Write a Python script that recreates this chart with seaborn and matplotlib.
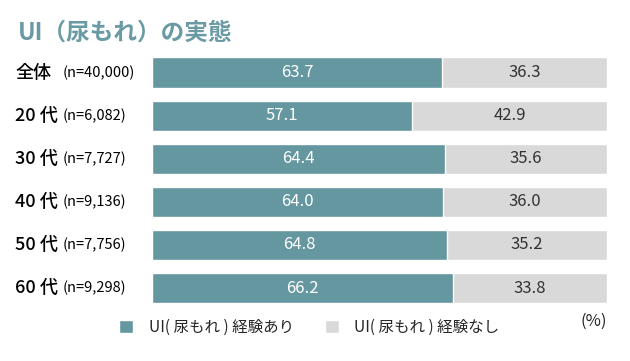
import pandas as pd
import seaborn as sns
import matplotlib.pyplot as plt

sns.set_style("white")
plt.rcParams['font.family'] = ['Noto Sans CJK JP', 'DejaVu Sans']

groups = ["全体", "20 代", "30 代", "40 代", "50 代", "60 代"]
counts = ["(n=40,000)", "(n=6,082)", "(n=7,727)", "(n=9,136)", "(n=7,756)", "(n=9,298)"]
yes_pct = [63.7, 57.1, 64.4, 64.0, 64.8, 66.2]
no_pct = [36.3, 42.9, 35.6, 36.0, 35.2, 33.8]

teal = "#64979f"
grey = "#d9d9d9"

data = pd.DataFrame({"group": groups, "yes": yes_pct, "no": no_pct})
data["total"] = data["yes"] + data["no"]

fig = plt.figure(figsize=(6.3, 3.61), dpi=100)
ax = fig.add_axes([152 / 630, 0.1424, 455 / 630, 0.7163])

sns.barplot(data=data, x="total", y="group", color=grey, width=0.7, ax=ax,
            label="UI( 尿もれ ) 経験なし", saturation=1)
sns.barplot(data=data, x="yes", y="group", color=teal, width=0.7, ax=ax,
            label="UI( 尿もれ ) 経験あり", saturation=1)
handles, labels = ax.get_legend_handles_labels()
if ax.get_legend() is not None:
    ax.get_legend().remove()

ax.set_xlim(0, 100)
ax.set_ylim(5.5, -0.5)
ax.set_xlabel("")
ax.set_ylabel("")
ax.set_xticks([])
ax.set_yticks([])
sns.despine(ax=ax, left=True, bottom=True)

for i, (y, n) in enumerate(zip(yes_pct, no_pct)):
    ax.text(y / 2, i, f"{y:.1f}", ha="center", va="center", color="white", fontsize=12)
    ax.text(y + n / 2, i, f"{n:.1f}", ha="center", va="center", color="#333333", fontsize=12)

trans = ax.get_yaxis_transform()
for i, (g, c) in enumerate(zip(groups, counts)):
    ax.text(-137 / 455, i, g, transform=trans, ha="left", va="center",
            fontsize=13, fontweight="medium", color="black")
    ax.text(-89 / 455, i, c, transform=trans, ha="left", va="center",
            fontsize=10.5, color="black")

fig.text(18 / 630, 1 - 33 / 361, "UI（尿もれ）の実態", ha="left", va="center",
         fontsize=17, fontweight="bold", color="#6a9aa3")

fig.legend(handles[::-1], labels[::-1], ncol=2, frameon=False, loc="center left",
           bbox_to_anchor=(119 / 630, 1 - 327 / 361), bbox_transform=fig.transFigure,
           fontsize=11.2, handlelength=0.9, handleheight=0.9, borderpad=0,
           borderaxespad=0, columnspacing=2.0, handletextpad=1.0)

fig.text(607 / 630, 1 - 321 / 361, "(%)", ha="right", va="center", fontsize=12)

fig.savefig("out.png", dpi=100)
